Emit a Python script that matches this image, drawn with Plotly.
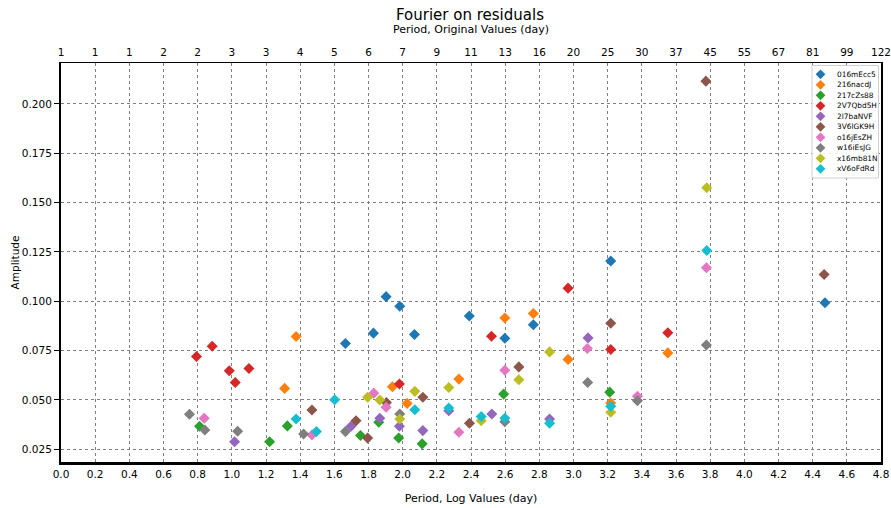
import plotly.graph_objects as go

names = ["016mEcc5", "216nacdJ", "217cZs88", "2V7Qbd5H", "2l7baNVF",
         "3V6lGK9H", "o16jEsZH", "w16iEsJG", "x16mb81N", "xV6oFdRd"]
colors = ["#1f77b4", "#ff7f0e", "#2ca02c", "#d62728", "#9467bd",
          "#8c564b", "#e377c2", "#7f7f7f", "#bcbd22", "#17becf"]

x_016mEcc5 = [1.665, 1.829, 1.903, 1.983, 2.069, 2.390, 2.598, 2.765, 3.218, 4.472]
y_016mEcc5 = [0.0786, 0.0838, 0.1023, 0.0974, 0.0831, 0.0925, 0.0812, 0.0881, 0.1204, 0.0992]

x_216nacdJ = [1.309, 1.376, 1.940, 2.026, 2.329, 2.598, 2.765, 2.968, 3.218, 3.552]
y_216nacdJ = [0.0558, 0.0821, 0.0566, 0.0482, 0.0605, 0.0915, 0.0938, 0.0705, 0.0484, 0.0738]

x_217cZs88 = [0.811, 1.221, 1.325, 1.753, 1.860, 1.977, 2.114, 2.591, 3.212]
y_217cZs88 = [0.0366, 0.0288, 0.0368, 0.0319, 0.0386, 0.0307, 0.0277, 0.0529, 0.0539]

x_2V7Qbd5H = [0.793, 0.885, 0.985, 1.020, 1.100, 1.981, 2.520, 2.968, 3.218, 3.552]
y_2V7Qbd5H = [0.0720, 0.0772, 0.0647, 0.0588, 0.0659, 0.0580, 0.0822, 0.1066, 0.0755, 0.0840]

x_2l7baNVF = [1.016, 1.698, 1.866, 1.981, 2.118, 2.270, 2.522, 2.860, 3.085]
y_2l7baNVF = [0.0288, 0.0366, 0.0407, 0.0366, 0.0344, 0.0445, 0.0428, 0.0403, 0.0814]

x_3V6lGK9H = [1.469, 1.727, 1.795, 1.905, 2.118, 2.391, 2.680, 3.218, 3.775, 4.467]
y_3V6lGK9H = [0.0449, 0.0394, 0.0306, 0.0487, 0.0513, 0.0381, 0.0667, 0.0888, 0.2115, 0.1135]

x_o16jEsZH = [0.838, 1.469, 1.831, 1.903, 2.329, 2.598, 3.081, 3.374, 3.778]
y_o16jEsZH = [0.0407, 0.0322, 0.0534, 0.0462, 0.0336, 0.0650, 0.0760, 0.0518, 0.1169]

x_w16iEsJG = [0.752, 0.842, 1.034, 1.420, 1.665, 1.983, 2.598, 3.083, 3.374, 3.778]
y_w16iEsJG = [0.0427, 0.0347, 0.0341, 0.0327, 0.0339, 0.0428, 0.0389, 0.0588, 0.0495, 0.0778]

x_x16mb81N = [1.795, 1.866, 1.983, 2.071, 2.270, 2.460, 2.680, 2.860, 3.218, 3.780]
y_x16mb81N = [0.0513, 0.0499, 0.0403, 0.0543, 0.0563, 0.0394, 0.0602, 0.0743, 0.0437, 0.1575]

x_xV6oFdRd = [1.376, 1.495, 1.602, 2.071, 2.270, 2.460, 2.598, 2.860, 3.218, 3.780]
y_xV6oFdRd = [0.0403, 0.0339, 0.0500, 0.0450, 0.0459, 0.0415, 0.0407, 0.0381, 0.0467, 0.1257]

xs = [x_016mEcc5, x_216nacdJ, x_217cZs88, x_2V7Qbd5H, x_2l7baNVF,
      x_3V6lGK9H, x_o16jEsZH, x_w16iEsJG, x_x16mb81N, x_xV6oFdRd]
ys = [y_016mEcc5, y_216nacdJ, y_217cZs88, y_2V7Qbd5H, y_2l7baNVF,
      y_3V6lGK9H, y_o16jEsZH, y_w16iEsJG, y_x16mb81N, y_xV6oFdRd]

bottom_ticks = [round(0.2 * i, 1) for i in range(25)]
top_labels = ["1", "1", "1", "2", "2", "3", "3", "4", "5", "6", "7", "9", "11",
              "13", "16", "20", "25", "30", "37", "45", "55", "67", "81", "99", "122"]
y_ticks = [0.025, 0.050, 0.075, 0.100, 0.125, 0.150, 0.175, 0.200]

FONT = "DejaVu Sans"
W, H = 891, 508
L, R, T, B = 61, 10, 63, 46
PW, PH = W - L - R, H - T - B
X_RANGE = [0, 4.8]
Y_RANGE = [0.0185, 0.2207]


def px_x(px):
    return px - L


def data_x(px):
    return X_RANGE[0] + (px - L) / PW * (X_RANGE[1] - X_RANGE[0])


def data_y(py):
    return Y_RANGE[1] - (py - T) / PH * (Y_RANGE[1] - Y_RANGE[0])


fig = go.Figure()
for n, c, x, y in zip(names, colors, xs, ys):
    fig.add_trace(go.Scatter(x=x, y=y, mode="markers", name=n, showlegend=False,
                             marker=dict(symbol="diamond", size=8.5, color=c,
                                         line=dict(width=0))))
# carrier for top axis
fig.add_trace(go.Scatter(x=X_RANGE, y=[None, None], xaxis="x2", mode="markers",
                         showlegend=False, hoverinfo="skip"))

# compact legend on a hidden pixel-like axis pair (x3: px from plot left, y3: row index)
row0_py, row_step = 74.3, 10.5
y3_top = (T - row0_py) / row_step
y3_bot = (T + PH - row0_py) / row_step
rows = list(range(len(names)))
fig.add_trace(go.Scatter(x=[px_x(820.5)] * len(names), y=rows, xaxis="x3", yaxis="y3",
                         mode="markers", showlegend=False, hoverinfo="skip",
                         marker=dict(symbol="diamond", size=7.5, color=colors,
                                     line=dict(width=0))))
annotations = [dict(x=px_x(834.5), y=i, xref="x3", yref="y3", text=n, showarrow=False,
                    xanchor="left", yanchor="middle",
                    font=dict(family=FONT, size=7.4, color="black"))
               for i, n in zip(rows, names)]

shapes = [dict(type="rect", xref="x", yref="y",
               x0=data_x(812), x1=data_x(878.5),
               y0=data_y(178), y1=data_y(65.5),
               line=dict(color="#d0d0d0", width=1), fillcolor="rgba(255,255,255,0.9)",
               layer="between")]

grid = dict(showgrid=True, gridcolor="#808080", gridwidth=1, griddash="dot")
fig.update_layout(
    width=W, height=H,
    margin=dict(l=L, r=R, t=T, b=B),
    paper_bgcolor="white", plot_bgcolor="white",
    font=dict(family=FONT, size=10, color="black"),
    title=dict(text="Fourier on residuals", x=470 / W, xanchor="center",
               y=1 - 15 / H, yanchor="middle", font=dict(size=15)),
    xaxis=dict(range=X_RANGE, tickvals=bottom_ticks,
               ticktext=[f"{v:.1f}" for v in bottom_ticks], automargin=False,
               showline=True, linecolor="black", linewidth=3, mirror=False,
               ticks="", zeroline=False, tickfont=dict(size=10.5),
               ticklabeloverflow="allow",
               title=dict(text="Period, Log Values (day)", font=dict(size=11), standoff=16),
               **grid),
    xaxis2=dict(range=X_RANGE, overlaying="x", side="top", tickvals=bottom_ticks,
                ticktext=top_labels, showline=True, linecolor="black", linewidth=1.2,
                ticks="", showgrid=False, zeroline=False, automargin=False,
                tickfont=dict(size=10.5), ticklabelstandoff=2, ticklabeloverflow="allow",
                title=dict(text="Period, Original Values (day)", font=dict(size=11), standoff=9)),
    xaxis3=dict(range=[0, PW], overlaying="x", visible=False, fixedrange=True),
    yaxis=dict(range=Y_RANGE, tickvals=y_ticks,
               ticktext=[f"{v:.3f}" for v in y_ticks], automargin=False,
               showline=True, linecolor="black", linewidth=2, mirror=True,
               ticks="outside", ticklen=5, tickcolor="black", zeroline=False,
               tickfont=dict(size=10.5),
               title=dict(text="Amplitude", font=dict(size=10.5), standoff=0),
               **grid),
    yaxis3=dict(range=[y3_bot, y3_top], overlaying="y", visible=False, fixedrange=True),
    annotations=annotations,
    shapes=shapes,
    showlegend=False,
)
fig.write_html("out.html", config={"displayModeBar": False},
               post_script="document.body.style.margin='0';document.body.style.overflow='hidden';")
